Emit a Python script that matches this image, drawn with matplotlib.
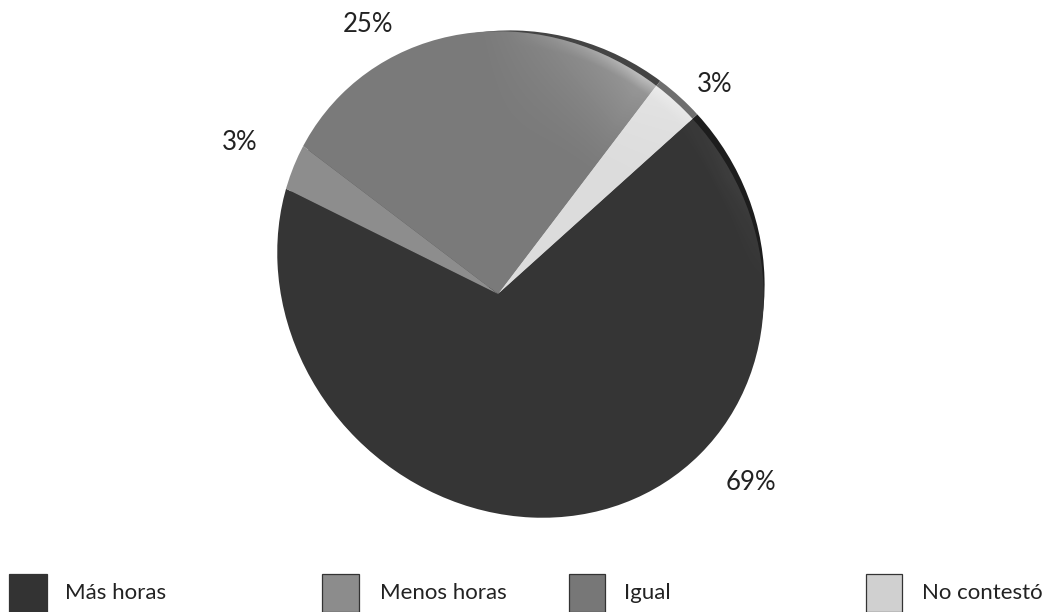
import numpy as np
import matplotlib
matplotlib.use("Agg")
import matplotlib.pyplot as plt
from matplotlib.patches import Ellipse, Rectangle

categories = ["Más horas", "Menos horas", "Igual", "No contestó"]
values = [69, 3, 25, 3]
value_labels = ["69%", "3%", "25%", "3%"]
face_colors = ["#353535", "#8d8d8d", "#7a7a7a", "#dcdcdc"]
rim_colors = ["#1d1d1d", "#555555", "#444444", "#6e6e6e"]
swatch_colors = ["#333333", "#8c8c8c", "#777777", "#d0d0d0"]

W, H = 1055, 612
plt.rcParams["font.family"] = ["Lato", "DejaVu Sans"]
fig = plt.figure(figsize=(W / 100, H / 100), dpi=100)
ax = fig.add_axes([0, 0, 1, 1])

def Y(py):
    return H - py

apex = (498, Y(294))
face_c = (520.5, Y(274.5))
face_a, face_b = 254, 232
rim_c = (523, Y(272))
rim_a, rim_b = 248, 235
TILT = 135
START = 42

def disc(c, a, b):
    return Ellipse(c, 2 * a, 2 * b, angle=TILT, transform=ax.transData)

# rim (the side of the tilted disc), then the tilted face
rim_w, _ = ax.pie(values, colors=rim_colors, center=(apex[0] + 2, apex[1] + 2), radius=900,
                  startangle=START, counterclock=False, frame=True)
rim_clip = disc(rim_c, rim_a, rim_b)
for w in rim_w:
    w.set_clip_on(True)
    w.set_clip_path(rim_clip)
    w.set_linewidth(0)

face_w, _ = ax.pie(values, colors=face_colors, center=apex, radius=900,
                   startangle=START, counterclock=False, frame=True)
face_clip = disc(face_c, face_a, face_b)
for w in face_w:
    w.set_clip_on(True)
    w.set_clip_path(face_clip)
    w.set_linewidth(0)

# glossy highlight along the upper-right edge
xx, yy = np.meshgrid(np.arange(0, W), np.arange(0, H))
dx, dy = xx - face_c[0], yy - face_c[1]
t = np.radians(TILT)
u = dx * np.cos(t) + dy * np.sin(t)
v = -dx * np.sin(t) + dy * np.cos(t)
dist = (1 - np.hypot(u / face_a, v / face_b)) * 240
ang = np.degrees(np.arctan2(dy, dx))
ang_apex = np.degrees(np.arctan2(yy - apex[1], xx - apex[0]))
upper = (ang_apex > START) & (ang_apex < 150)
ang_f = np.clip(1 - np.abs(ang - 58) / 42, 0, 1)
broad = 0.26 * np.clip(1 - dist / 120, 0, 1) ** 1.5 * ang_f * upper
band = 0.28 * np.clip(1 - dist / 14, 0, 1) * np.clip(1 - np.abs(ang - 58) / 35, 0, 1) * upper
dark_band = 0.05 * np.clip(1 - dist / 25, 0, 1) * np.clip(1 - np.abs(ang - 25) / 30, 0, 1) * (~upper)
rgba = np.ones((H, W, 4))
rgba[..., 3] = np.clip(broad + band + dark_band, 0, 1)
im = ax.imshow(rgba, extent=(-0.5, W - 0.5, -0.5, H - 0.5), origin="lower",
               interpolation="bilinear", zorder=3, aspect="auto")
im.set_clip_path(disc(face_c, face_a, face_b))

# percentage labels
label_pos = [(751, 482), (240, 143), (368, 24), (715, 85)]
for (px, py), s in zip(label_pos, value_labels):
    ax.text(px, Y(py), s, fontsize=18.5, color="#222222", ha="center", va="center", zorder=5)

# legend
swatch_x = [9, 322, 569, 866]
swatch_w = [38, 37, 36, 36]
text_x = [65, 380, 624, 922]
for x, w, c, tx, name in zip(swatch_x, swatch_w, swatch_colors, text_x, categories):
    ax.add_patch(Rectangle((x, Y(612)), w, 38, facecolor=c,
                           edgecolor="#333333", linewidth=0.9, clip_on=False, zorder=4))
    ax.text(tx, Y(593), name, fontsize=16, color="#222222", ha="left", va="center", zorder=5)

ax.set_xlim(0, W)
ax.set_ylim(0, H)
ax.set_aspect("auto")
ax.axis("off")
fig.savefig("out.png", dpi=100, facecolor="white")
